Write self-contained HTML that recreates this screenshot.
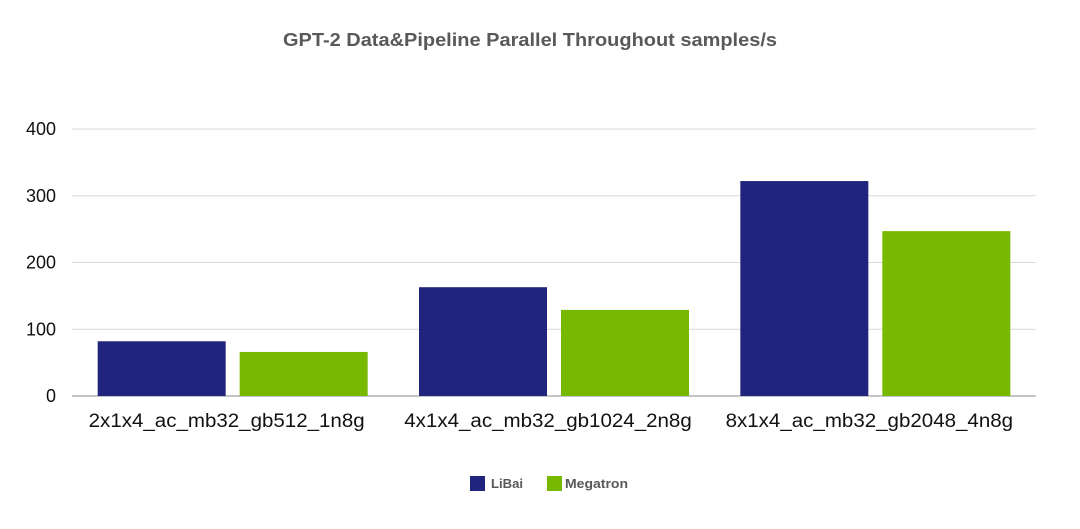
<!DOCTYPE html>
<html><head><meta charset="utf-8"><style>
html,body{margin:0;padding:0;background:#fff;}
body{width:1080px;height:524px;overflow:hidden;font-family:"Liberation Sans",Arial,sans-serif;}
</style></head><body>
<svg id="chart" width="1080" height="524" xmlns="http://www.w3.org/2000/svg">
<text x="530" y="46" text-anchor="middle" font-size="18" font-weight="bold" fill="#595959" textLength="494" lengthAdjust="spacingAndGlyphs">GPT-2 Data&amp;Pipeline Parallel Throughout samples/s</text>
<g id="grid"></g><g id="bars"></g><g id="labels"></g>
<g>
<rect x="470" y="476" width="15" height="15" fill="#20247c"/>
<text x="491" y="488" font-size="13" font-weight="bold" fill="#595959" textLength="32" lengthAdjust="spacingAndGlyphs">LiBai</text>
<rect x="547" y="476" width="15" height="15" fill="#76b900"/>
<text x="565" y="488" font-size="13" font-weight="bold" fill="#595959" textLength="63" lengthAdjust="spacingAndGlyphs">Megatron</text>
</g>
</svg>
<script>
const categories=["2x1x4_ac_mb32_gb512_1n8g","4x1x4_ac_mb32_gb1024_2n8g","8x1x4_ac_mb32_gb2048_4n8g"];
const libai=[82,163,322];
const megatron=[66,129,247];
const yTicks=[0,100,200,300,400];
const NS="http://www.w3.org/2000/svg";
const x0=72,x1=1036,y0=396,y1=129,yMax=400;
const yS=v=>y0-(v/yMax)*(y0-y1);
const gw=(x1-x0)/categories.length;
const bw=128,gap=14;
const grid=document.getElementById('grid'),bars=document.getElementById('bars'),labels=document.getElementById('labels');
function mk(t,a,p){const e=document.createElementNS(NS,t);for(const k in a)e.setAttribute(k,a[k]);p.appendChild(e);return e;}
yTicks.forEach(v=>{
 const l=mk('line',{x1:x0,x2:x1,y1:yS(v),y2:yS(v),stroke:v===0?'#888':'#d9d9d9','stroke-width':1},grid);
 
 
 const t=mk('text',{x:56,y:yS(v)+6,'text-anchor':'end','font-size':18,fill:'#111'},labels);
 t.textContent=v;
 
 
});
categories.forEach((c,i)=>{
 const start=x0+i*gw+(gw-2*bw-gap)/2;
 const b1=mk('rect',{x:start,y:yS(libai[i]),width:bw,height:y0-yS(libai[i]),fill:'#20247c'},bars);
 
 
 const b2=mk('rect',{x:start+bw+gap,y:yS(megatron[i]),width:bw,height:y0-yS(megatron[i]),fill:'#76b900'},bars);
 
 
 const t=mk('text',{x:x0+i*gw+gw/2-6,y:427,'text-anchor':'middle','font-size':19,fill:'#111',textLength:c.length*11.5,lengthAdjust:'spacingAndGlyphs'},labels);
 t.textContent=c;
 
 
});
</script>
</body></html>
